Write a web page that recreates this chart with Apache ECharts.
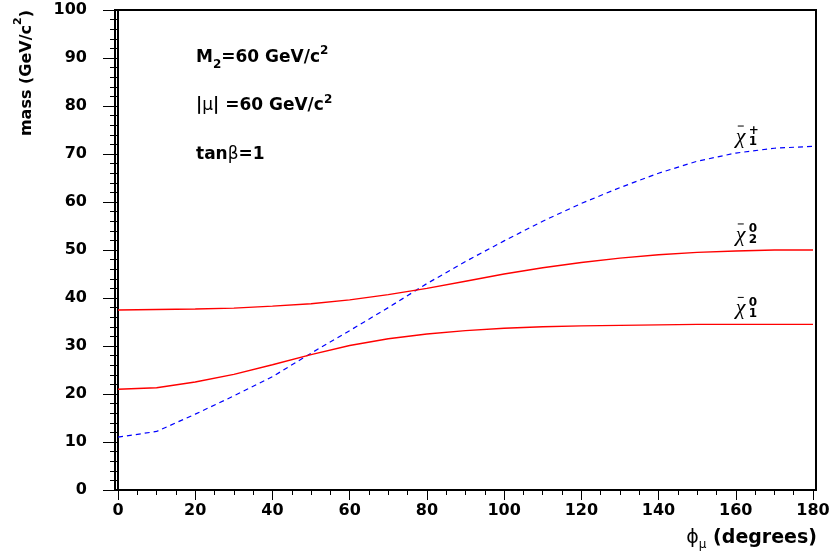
<!DOCTYPE html>
<html>
<head>
<meta charset="utf-8">
<script src="https://cdn.jsdelivr.net/npm/echarts@6/dist/echarts.min.js"></script>
<style>
  html, body { margin: 0; padding: 0; background: #fff; }
  #chart { width: 833px; height: 554px; }
</style>
</head>
<body>
<div id="chart"></div>
<script>
// phase of mu in degrees, sampled every 10 degrees
const phiMu = [0, 10, 20, 30, 40, 50, 60, 70, 80, 90, 100, 110, 120, 130, 140, 150, 160, 170, 180];

// lightest chargino mass (GeV/c^2)
const chargino1 = [11.0, 12.2, 15.8, 19.6, 23.6, 28.5, 33.2, 38.0, 43.0, 47.6, 51.9, 56.0, 59.7, 63.0, 66.0, 68.5, 70.2, 71.2, 71.6];
// second neutralino mass (GeV/c^2)
const neutralino2 = [37.5, 37.6, 37.7, 37.9, 38.3, 38.8, 39.6, 40.7, 42.0, 43.5, 45.0, 46.3, 47.4, 48.3, 49.0, 49.5, 49.8, 50.0, 50.0];
// lightest neutralino mass (GeV/c^2)
const neutralino1 = [21.0, 21.3, 22.5, 24.1, 26.1, 28.2, 30.1, 31.5, 32.5, 33.2, 33.7, 34.0, 34.2, 34.3, 34.4, 34.5, 34.5, 34.5, 34.5];

// curve name tags: [sup, sub] placed above each curve at this phase
const tagPhase = 160;
const tagScripts = [['+', '1'], ['0', '2'], ['0', '1']];

const FONT = '"DejaVu Sans", sans-serif';

function pairs(ys) {
  return phiMu.map((x, i) => [x, ys[i]]);
}

const tagIdx = phiMu.indexOf(tagPhase);
const tagData = [chargino1, neutralino2, neutralino1].map((ys, i) =>
  [tagPhase, ys[tagIdx], tagScripts[i][0], tagScripts[i][1]]);

const chart = echarts.init(document.getElementById('chart'), null, { renderer: 'canvas' });

chart.setOption({
  backgroundColor: '#ffffff',
  animation: false,
  grid: { left: 118, right: 20, top: 10, bottom: 64, containLabel: false },
  xAxis: {
    type: 'value',
    min: 0, max: 180, interval: 20,
    axisLine: { show: true, lineStyle: { color: '#000', width: 2 } },
    axisTick: { show: true, inside: false, length: 10, lineStyle: { color: '#000', width: 1 } },
    minorTick: { show: true, splitNumber: 4, length: 5, lineStyle: { color: '#000', width: 1 } },
    splitLine: { show: false },
    axisLabel: { color: '#000', fontFamily: FONT, fontWeight: 'bold', fontSize: 16, margin: 13 }
  },
  yAxis: {
    type: 'value',
    min: 0, max: 100, interval: 10,
    offset: 3,
    axisLine: { show: true, lineStyle: { color: '#000', width: 2 } },
    axisTick: { show: true, inside: false, length: 15, lineStyle: { color: '#000', width: 1 } },
    minorTick: { show: true, splitNumber: 5, length: 8, lineStyle: { color: '#000', width: 1 } },
    splitLine: { show: false },
    axisLabel: { color: '#000', fontFamily: FONT, fontWeight: 'bold', fontSize: 16, margin: 28 }
  },
  series: [
    {
      type: 'line', name: 'chargino1', data: pairs(chargino1),
      showSymbol: false, smooth: false,
      lineStyle: { color: '#0000ff', width: 1.2, type: [5, 4] }
    },
    {
      type: 'line', name: 'neutralino2', data: pairs(neutralino2),
      showSymbol: false, smooth: false,
      lineStyle: { color: '#ff0000', width: 1.4 }
    },
    {
      type: 'line', name: 'neutralino1', data: pairs(neutralino1),
      showSymbol: false, smooth: false,
      lineStyle: { color: '#ff0000', width: 1.4 }
    },
    {
      type: 'custom', name: 'tags', data: tagData, silent: true, z: 10,
      renderItem: function (params, api) {
        const p = api.coord([api.value(0), api.value(1)]);
        const sup = tagScripts[params.dataIndex][0];
        const sub = tagScripts[params.dataIndex][1];
        const cx = p[0];
        const cy = p[1] - 16;
        return {
          type: 'group',
          children: [
            { type: 'text', x: cx, y: cy,
              style: { text: 'χ', fill: '#000', font: 'italic 22px "Liberation Serif", serif', align: 'left', verticalAlign: 'middle' } },
            { type: 'line', shape: { x1: cx + 2, y1: cy - 11, x2: cx + 8, y2: cy - 11 },
              style: { stroke: '#000', lineWidth: 1 } },
            { type: 'text', x: cx + 13, y: cy - 6,
              style: { text: sup, fill: '#000', font: 'bold 12px ' + FONT, align: 'left', verticalAlign: 'middle' } },
            { type: 'text', x: cx + 13, y: cy + 5,
              style: { text: sub, fill: '#000', font: 'bold 12px ' + FONT, align: 'left', verticalAlign: 'middle' } }
          ]
        };
      }
    }
  ],
  graphic: [
    // plot frame
    { type: 'rect', z: 100, silent: true,
      shape: { x: 115, y: 10, width: 701, height: 480 },
      style: { fill: null, stroke: '#000', lineWidth: 2 } },
    // y axis title
    { type: 'text', x: 24, y: 10, rotation: Math.PI / 2, silent: true,
      style: {
        text: '{t|mass (GeV/c}{s|2}{t|)}',
        align: 'right', verticalAlign: 'middle', fill: '#000',
        rich: {
          t: { fontFamily: FONT, fontWeight: 'bold', fontSize: 16, lineHeight: 22, verticalAlign: 'bottom' },
          s: { fontFamily: FONT, fontWeight: 'bold', fontSize: 11, lineHeight: 22, verticalAlign: 'top' }
        }
      } },
    // x axis title
    { type: 'text', x: 817, y: 538, silent: true,
      style: {
        text: '{g|ϕ}{u|μ}{t| (degrees)}',
        align: 'right', verticalAlign: 'middle', fill: '#000',
        rich: {
          g: { fontFamily: FONT, fontSize: 19, lineHeight: 24, verticalAlign: 'middle' },
          u: { fontFamily: FONT, fontSize: 12, lineHeight: 26, verticalAlign: 'bottom' },
          t: { fontFamily: FONT, fontWeight: 'bold', fontSize: 19, lineHeight: 24, verticalAlign: 'middle' }
        }
      } },
    // parameter notes
    { type: 'text', x: 196, y: 58, silent: true,
      style: {
        text: '{t|M}{b|2}{t|=60 GeV/c}{p|2}',
        align: 'left', verticalAlign: 'middle', fill: '#000',
        rich: {
          t: { fontFamily: FONT, fontWeight: 'bold', fontSize: 17, lineHeight: 24, verticalAlign: 'middle' },
          b: { fontFamily: FONT, fontWeight: 'bold', fontSize: 12, lineHeight: 26, verticalAlign: 'bottom' },
          p: { fontFamily: FONT, fontWeight: 'bold', fontSize: 12, lineHeight: 22, verticalAlign: 'top' }
        }
      } },
    { type: 'text', x: 196, y: 106, silent: true,
      style: {
        text: '{t||}{g|μ}{t|| =60 GeV/c}{p|2}',
        align: 'left', verticalAlign: 'middle', fill: '#000',
        rich: {
          t: { fontFamily: FONT, fontWeight: 'bold', fontSize: 17, lineHeight: 24, verticalAlign: 'middle' },
          g: { fontFamily: FONT, fontSize: 17, lineHeight: 24, verticalAlign: 'middle' },
          p: { fontFamily: FONT, fontWeight: 'bold', fontSize: 12, lineHeight: 22, verticalAlign: 'top' }
        }
      } },
    { type: 'text', x: 196, y: 155, silent: true,
      style: {
        text: '{t|tan}{g|β}{t|=1}',
        align: 'left', verticalAlign: 'middle', fill: '#000',
        rich: {
          t: { fontFamily: FONT, fontWeight: 'bold', fontSize: 17, lineHeight: 24, verticalAlign: 'middle' },
          g: { fontFamily: FONT, fontSize: 17, lineHeight: 24, verticalAlign: 'middle' }
        }
      } }
  ]
});
</script>
</body>
</html>
